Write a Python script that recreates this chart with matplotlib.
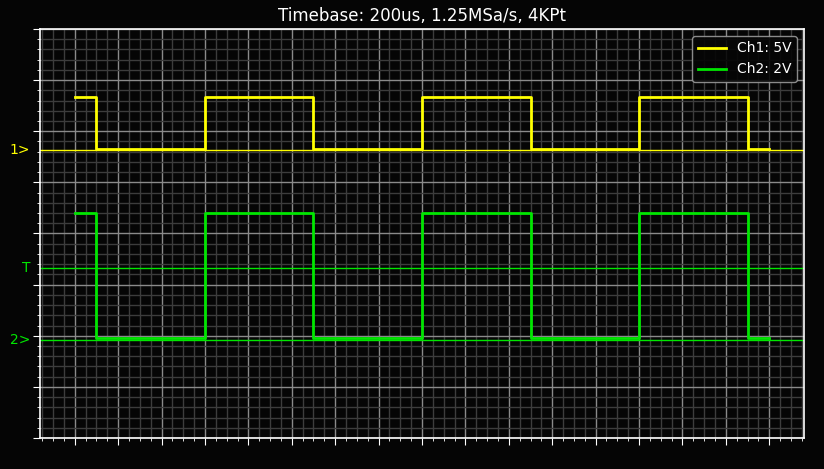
import matplotlib
matplotlib.use("Agg")
import matplotlib.pyplot as plt
import numpy as np
from matplotlib.ticker import MultipleLocator
import matplotlib.transforms as mtransforms

# time of each edge in us (200us / div)
edge_t = [0, 100, 600, 1100, 1600, 2100, 2600, 3100, 3200]
edge_state = [1, 0, 1, 0, 1, 0, 1, 0, 0]

# channel settings
ch1_low, ch1_high = 0.1, 5.2      # volts
ch1_scale, ch1_offset = 5.0, 1.63  # V/div, div
ch2_low, ch2_high = 0.08, 5.0
ch2_scale, ch2_offset = 2.0, -2.09
trig_level = -0.68                 # div

yellow = "#ffff00"
green = "#00e600"

fig = plt.figure(figsize=(8.24, 4.69), dpi=100, facecolor="#050505")
ax = fig.add_axes([40/824, 1-438/469, 764/824, 409/469])
ax.set_facecolor("#050505")

t = np.array(edge_t)
s = np.array(edge_state)
ch1 = (ch1_low + s*(ch1_high - ch1_low))/ch1_scale + ch1_offset
ch2 = (ch2_low + s*(ch2_high - ch2_low))/ch2_scale + ch2_offset

ax.step(t, ch1, where="post", color=yellow, lw=2, label="Ch1: 5V")
ax.step(t, ch2, where="post", color=green, lw=2, label="Ch2: 2V")

ax.axhline(ch1_offset, color=yellow, lw=1)
ax.axhline(ch2_offset, color=green, lw=1)
ax.axhline(trig_level, color=green, lw=1)

ax.set_ylim(-4, 4)
ax.margins(x=0.05)

ax.xaxis.set_major_locator(MultipleLocator(200))
ax.xaxis.set_minor_locator(MultipleLocator(50))
ax.yaxis.set_major_locator(MultipleLocator(1))
ax.yaxis.set_minor_locator(MultipleLocator(0.2))
ax.grid(which="major", color="#8a8a8a", lw=1)
ax.grid(which="minor", color="#3c3c3c", lw=1)
ax.set_axisbelow(True)
ax.tick_params(which="both", colors="white", labelbottom=False, labelleft=False)
ax.tick_params(which="major", length=5)
ax.tick_params(which="minor", length=2.5)
for sp in ax.spines.values():
    sp.set_color("white")
    sp.set_linewidth(1.2)

trans = mtransforms.blended_transform_factory(ax.transAxes, ax.transData)
ax.text(-0.013, ch1_offset, "1>", color=yellow, ha="right", va="center", fontsize=10, transform=trans)
ax.text(-0.013, trig_level, "T", color=green, ha="right", va="center", fontsize=10, transform=trans)
ax.text(-0.013, ch2_offset, "2>", color=green, ha="right", va="center", fontsize=10, transform=trans)

ax.set_title("Timebase: 200us, 1.25MSa/s, 4KPt", color="white", fontsize=12)

leg = ax.legend(loc="upper right", facecolor="#050505", edgecolor="#999999",
                labelcolor="white", fontsize=10, framealpha=0.9)

fig.savefig("out.png", dpi=100, facecolor=fig.get_facecolor())
